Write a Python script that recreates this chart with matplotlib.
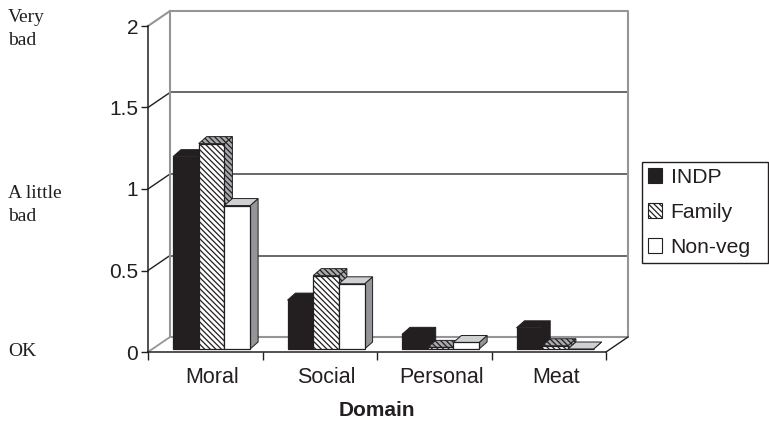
import matplotlib
matplotlib.use("Agg")
import matplotlib.pyplot as plt
from matplotlib.patches import Polygon, Patch

plt.rcParams['font.family'] = ['Liberation Sans', 'DejaVu Sans']
plt.rcParams['hatch.linewidth'] = 0.9

domains = ['Moral', 'Social', 'Personal', 'Meat']
indp = [1.18, 0.30, 0.09, 0.13]
family = [1.26, 0.45, 0.01, 0.02]
nonveg = [0.88, 0.40, 0.04, 0.0]
y_ticks = [0, 0.5, 1, 1.5, 2]
y_labels = ['0', '0.5', '1', '1.5', '2']

W, H = 769, 423
dark = '#231f20'
gray = '#939598'

fig = plt.figure(figsize=(W / 100, H / 100), dpi=100)
#Axes is the front plane of the fake 3D box
ax = fig.add_axes([148 / W, 1 - 352 / H, 458 / W, 326 / H])
ax.set_xlim(0, 4)
ax.set_ylim(0, 2)

#Box depth and bar depth in data units
box_dx, box_dy = 22 / 114.5, 15 / 163
bar_dx, bar_dy = 8 / 114.5, 7 / 163
bar_w = 25.7 / 114.5
bar_start = 25 / 114.5
base = 3 / 163

#Back wall
for v in y_ticks[1:-1]:
    ax.plot([box_dx, 4 + box_dx], [v + box_dy, v + box_dy], color='#404042', lw=1.1, clip_on=False, zorder=1)
    ax.plot([0, box_dx], [v, v + box_dy], color=dark, lw=1.0, clip_on=False, zorder=1)
ax.plot([0, box_dx, 4 + box_dx, 4 + box_dx, box_dx, box_dx],
        [2, 2 + box_dy, 2 + box_dy, box_dy, box_dy, 2 + box_dy],
        color=gray, lw=1.5, clip_on=False, zorder=1)
ax.plot([0, box_dx], [0, box_dy], color=gray, lw=1.3, clip_on=False, zorder=1)
ax.plot([4, 4 + box_dx], [0, box_dy], color=dark, lw=1.0, clip_on=False, zorder=1)

#Bars, drawn series by series so the later ones cover the earlier ones
series = [
    ('INDP', indp, dark, dark, dark, None),
    ('Family', family, 'white', '#a7a9ac', '#a7a9ac', '\\\\\\\\\\\\'),
    ('Non-veg', nonveg, 'white', '#cfd0d2', gray, None),
]
z = 3
for k, (name, vals, front, top, side, hatch) in enumerate(series):
    for i, v in enumerate(vals):
        x0 = i + bar_start + k * bar_w
        x1 = x0 + bar_w
        y0 = base
        y1 = base + v
        ax.add_patch(Polygon([(x1, y0), (x1 + bar_dx, y0 + bar_dy), (x1 + bar_dx, y1 + bar_dy), (x1, y1)],
                             facecolor=side, edgecolor=dark, lw=0.7, hatch=hatch, clip_on=False, zorder=z))
        ax.add_patch(Polygon([(x0, y1), (x0 + bar_dx, y1 + bar_dy), (x1 + bar_dx, y1 + bar_dy), (x1, y1)],
                             facecolor=top, edgecolor=dark, lw=0.7, hatch=hatch, clip_on=False, zorder=z))
        ax.bar(x0, v, bar_w, bottom=base, align='edge', color=front, edgecolor=dark,
               lw=0.9, hatch=hatch, clip_on=False, zorder=z)
        z += 1

#Axes lines and ticks
for s in ['top', 'right']:
    ax.spines[s].set_visible(False)
for s in ['left', 'bottom']:
    ax.spines[s].set_color(dark)
    ax.spines[s].set_linewidth(1.1)
ax.set_yticks(y_ticks)
ax.set_yticklabels(y_labels, fontsize=15, color=dark)
ax.set_xticks(range(5))
ax.set_xticklabels([])
ax.set_xticks([i + 0.56 for i in range(4)], minor=True)
ax.set_xticklabels(domains, minor=True, fontsize=15.5, color=dark)
ax.tick_params(axis='x', which='minor', length=0, pad=11)
ax.tick_params(axis='x', which='major', length=6, width=1, color=dark)
ax.tick_params(axis='y', length=5, width=1, color=dark, pad=2)
ax.set_xlabel('Domain', fontsize=15, fontweight='bold', color=dark, labelpad=9)

#Legend box runs to the right edge of the image
handles = [Patch(facecolor=dark, edgecolor=dark, lw=0.8, label='INDP'),
           Patch(facecolor='white', edgecolor=dark, lw=0.8, hatch='\\\\\\\\\\\\', label='Family'),
           Patch(facecolor='white', edgecolor=dark, lw=0.8, label='Non-veg')]
fig.legend(handles=handles, loc='upper left', mode='expand',
           bbox_to_anchor=(642 / W, 1 - 262 / H, 126 / W, 100 / H), bbox_transform=fig.transFigure,
           fontsize=15.2, fancybox=False, framealpha=1, edgecolor=dark, borderaxespad=0,
           handlelength=0.66, handleheight=0.66, handletextpad=0.42, labelspacing=0.76,
           borderpad=0.28, labelcolor=dark).get_frame().set_linewidth(1.0)

#Scale wording on the far left, one entry per line
for label, y in [('Very', 22), ('bad', 45), ('A little', 198), ('bad', 221), ('OK', 356)]:
    fig.text(8 / W, 1 - y / H, label, family='Liberation Serif', fontsize=14, color=dark, va='baseline')

fig.savefig('out.png', dpi=100)
